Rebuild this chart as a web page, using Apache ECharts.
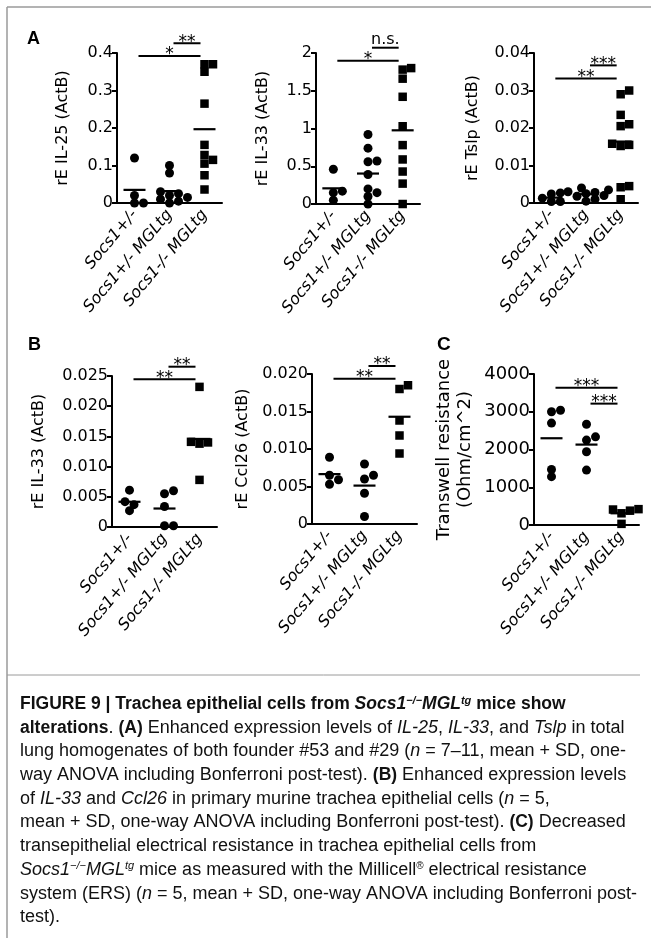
<!DOCTYPE html>
<html>
<head>
<meta charset="utf-8">
<script src="https://cdn.jsdelivr.net/npm/echarts@6/dist/echarts.min.js"></script>
<style>
  html, body { margin: 0; padding: 0; background: #fff; }
  #chart { width: 651px; height: 938px; }
</style>
</head>
<body>
<div id="chart"></div>
<script>
// group names on every x axis
var groups = ['Socs1+/-', 'Socs1+/- MGLtg', 'Socs1-/- MGLtg'];

// A: IL-25 (rE to ActB)
var il25Het = [0.12, 0.02, 0.0, 0.0];
var il25HetTg = [0.10, 0.08, 0.03, 0.025, 0.02, 0.015, 0.01, 0.005, 0.0];
var il25KoTg = [0.37, 0.37, 0.35, 0.265, 0.155, 0.128, 0.115, 0.105, 0.074, 0.036];

// A: IL-33
var il33aHet = [0.46, 0.17, 0.15, 0.05];
var il33aHetTg = [0.92, 0.74, 0.57, 0.56, 0.39, 0.2, 0.15, 0.1, 0.0];
var il33aKoTg = [1.80, 1.78, 1.66, 1.42, 1.03, 0.78, 0.59, 0.43, 0.27, 0.0];

// A: Tslp
var tslpHet = [0.0027, 0.0024, 0.0013, 0.0004, 0.0004];
var tslpHetTg = [0.004, 0.0035, 0.003, 0.0028, 0.0025, 0.002, 0.0018, 0.001, 0.0005];
var tslpKoTg = [0.030, 0.029, 0.0235, 0.021, 0.0205, 0.0158, 0.0155, 0.0152, 0.0045, 0.0042, 0.001];

// B: IL-33 in trachea epithelial cells
var il33bHet = [0.0061, 0.0042, 0.0037, 0.0027];
var il33bHetTg = [0.006, 0.0055, 0.0034, 0.0002, 0.0002];
var il33bKoTg = [0.0232, 0.014, 0.0138, 0.0141, 0.0078];

// B: Ccl26
var ccl26Het = [0.0089, 0.0065, 0.0059, 0.0053];
var ccl26HetTg = [0.008, 0.0065, 0.006, 0.0041, 0.001];
var ccl26KoTg = [0.0185, 0.018, 0.0138, 0.0118, 0.0094];

// C: transwell resistance (Ohm/cm^2)
var terHet = [3040, 3000, 2700, 1470, 1280];
var terHetTg = [2670, 2335, 2250, 1940, 1455];
var terKoTg = [420, 410, 380, 310, 30];

// significance bars: [from group, to group, height, label]
var il25Sig = [[0, 2, 0.392, '*'], [1, 2, 0.426, '**']];
var il33aSig = [[0, 2, 1.898, '*'], [1, 2, 2.07, 'n.s.']];
var tslpSig = [[0, 2, 0.0332, '**'], [1, 2, 0.0367, '***']];
var il33bSig = [[0, 2, 0.02446, '**'], [1, 2, 0.02654, '**']];
var ccl26Sig = [[0, 2, 0.01937, '**'], [1, 2, 0.02107, '**']];
var terSig = [[0, 2, 3638, '***'], [1, 2, 3215, '***']];

var FONT = 'DejaVu Sans, Verdana, sans-serif';

var panels = [
  { grid: { left: 117, top: 53, width: 105, height: 150 }, name: 'rE IL-25 (ActB)', gap: 45,
    max: 0.4, interval: 0.1, fmt: function (v) { return v === 0 ? '0' : v.toFixed(1); },
    sets: [il25Het, il25HetTg, il25KoTg], sig: il25Sig },
  { grid: { left: 316, top: 53, width: 104, height: 151 }, name: 'rE IL-33 (ActB)', gap: 44,
    max: 2, interval: 0.5, fmt: function (v) { return String(+v.toFixed(1)); },
    sets: [il33aHet, il33aHetTg, il33aKoTg], sig: il33aSig },
  { grid: { left: 534, top: 53, width: 104, height: 150 }, name: 'rE Tslp (ActB)', gap: 52,
    max: 0.04, interval: 0.01, fmt: function (v) { return v === 0 ? '0' : v.toFixed(2); },
    sets: [tslpHet, tslpHetTg, tslpKoTg], sig: tslpSig },
  { grid: { left: 112, top: 376, width: 105, height: 151 }, name: 'rE IL-33 (ActB)', gap: 64,
    max: 0.025, interval: 0.005, fmt: function (v) { return v === 0 ? '0' : v.toFixed(3); },
    sets: [il33bHet, il33bHetTg, il33bKoTg], sig: il33bSig },
  { grid: { left: 312, top: 374, width: 105, height: 150 }, name: 'rE Ccl26 (ActB)', gap: 60,
    max: 0.02, interval: 0.005, fmt: function (v) { return v === 0 ? '0' : v.toFixed(3); },
    sets: [ccl26Het, ccl26HetTg, ccl26KoTg], sig: ccl26Sig },
  { grid: { left: 534, top: 374, width: 105, height: 151 }, name: 'Transwell resistance\n(Ohm/cm^2)', gap: 58,
    max: 4000, interval: 1000, fmt: function (v) { return String(Math.round(v)); },
    sets: [terHet, terHetTg, terKoTg], sig: terSig, big: true }
];

// simple beeswarm: push overlapping points sideways (pixel offsets)
function swarm(vals, max, h, d) {
  var py = vals.map(function (v) { return v / max * h; });
  var order = py.map(function (p, i) { return i; }).sort(function (a, b) { return py[a] - py[b]; });
  var placed = [], off = [];
  var cands = [0];
  for (var k = 1; k < 10; k++) { cands.push(k * d * 0.5, -k * d * 0.5); }
  order.forEach(function (i) {
    var c = 0;
    for (var j = 0; j < cands.length; j++) {
      c = cands[j];
      var ok = placed.every(function (p) {
        var dx = p.x - c, dy = p.y - py[i];
        return dx * dx + dy * dy >= d * d * 0.55;
      });
      if (ok) break;
    }
    off[i] = c;
    placed.push({ x: c, y: py[i] });
  });
  return off;
}

function mean(a) { return a.reduce(function (s, v) { return s + v; }, 0) / a.length; }

var grids = [], xAxes = [], yAxes = [], series = [];

panels.forEach(function (p, idx) {
  grids.push(p.grid);
  xAxes.push({
    type: 'category', gridIndex: idx, data: groups,
    axisLine: { lineStyle: { color: '#000', width: 2 } },
    axisTick: { alignWithLabel: true, length: 5, lineStyle: { width: 2, color: '#000' } },
    axisLabel: { interval: 0, rotate: 50, margin: 9, color: '#000', fontStyle: 'italic',
      fontFamily: FONT, fontSize: 16 }
  });
  yAxes.push({
    type: 'value', gridIndex: idx, min: 0, max: p.max, interval: p.interval,
    name: p.name, nameLocation: 'middle', nameRotate: 90, nameGap: p.gap,
    nameTextStyle: { color: '#000', fontFamily: FONT, fontSize: p.big ? 18 : 16, lineHeight: p.big ? 21 : 18 },
    axisLine: { show: true, lineStyle: { color: '#000', width: 2 } },
    axisTick: { show: true, length: 5, lineStyle: { width: 2, color: '#000' } },
    splitLine: { show: false },
    axisLabel: { color: '#000', fontFamily: FONT, fontSize: p.big ? 18 : 16, margin: 4, formatter: p.fmt }
  });

  // mean bars
  series.push({
    type: 'scatter', xAxisIndex: idx, yAxisIndex: idx, z: 2,
    symbol: 'rect', symbolSize: [22, 2.2], itemStyle: { color: '#000', opacity: 1 },
    data: p.sets.map(function (s, i) { return [i, mean(s)]; })
  });

  // individual animals
  p.sets.forEach(function (s, i) {
    var size = i === 2 ? 8.5 : 9;
    var off = swarm(s, p.max, p.grid.height, size);
    series.push({
      type: 'scatter', xAxisIndex: idx, yAxisIndex: idx, z: 3,
      symbol: i === 2 ? 'rect' : 'circle', symbolSize: size,
      itemStyle: { color: '#000', opacity: 1 },
      data: s.map(function (v, k) { return { value: [i, v], symbolOffset: [off[k], 0] }; })
    });
  });

  // significance bars
  series.push({
    type: 'custom', xAxisIndex: idx, yAxisIndex: idx, clip: false, z: 4,
    encode: { x: [0, 1], y: 2 },
    data: p.sig.map(function (r) { return [r[0], r[1], r[2]]; }),
    renderItem: function (params, api) {
      var a = api.coord([api.value(0), api.value(2)]);
      var b = api.coord([api.value(1), api.value(2)]);
      var lab = p.sig[params.dataIndex][3];
      var star = lab.indexOf('*') === 0;
      return {
        type: 'group',
        children: [
          { type: 'line', shape: { x1: a[0] + 4, y1: a[1], x2: b[0] - 4, y2: b[1] },
            style: { stroke: '#000', lineWidth: 2 } },
          { type: 'text',
            style: { text: lab, x: (a[0] + b[0]) / 2, y: star ? a[1] - 1 : a[1] - 8,
              align: 'center', verticalAlign: 'middle', fill: '#000',
              font: (star ? '17px ' : '16px ') + FONT } }
        ]
      };
    }
  });
});

// caption lines, rich text
var CF = 'Liberation Sans';
var rich = {
  b: { fontWeight: 'bold', fontFamily: CF, fontSize: 17.5 },
  bi: { fontWeight: 'bold', fontStyle: 'italic', fontFamily: CF, fontSize: 17.5 },
  bs: { fontWeight: 'bold', fontStyle: 'italic', fontFamily: CF, fontSize: 11, verticalAlign: 'top' },
  i: { fontStyle: 'italic', fontFamily: CF, fontSize: 18 },
  s: { fontStyle: 'italic', fontFamily: CF, fontSize: 11, verticalAlign: 'top' },
  r: { fontFamily: CF, fontSize: 18 },
  rs: { fontFamily: CF, fontSize: 10, verticalAlign: 'top' }
};
var caption = [
  '{b|FIGURE 9 | Trachea epithelial cells from }{bi|Socs1}{bs|−/−}{bi|MGL}{bs|tg}{b| mice show}',
  '{b|alterations}{r|. }{b|(A)}{r| Enhanced expression levels of }{i|IL-25}{r|, }{i|IL-33}{r|, and }{i|Tslp}{r| in total}',
  '{r|lung homogenates of both founder #53 and #29 (}{i|n}{r| = 7–11, mean + SD, one-}',
  '{r|way ANOVA including Bonferroni post-test). }{b|(B)}{r| Enhanced expression levels}',
  '{r|of }{i|IL-33}{r| and }{i|Ccl26}{r| in primary murine trachea epithelial cells (}{i|n}{r| = 5,}',
  '{r|mean + SD, one-way ANOVA including Bonferroni post-test). }{b|(C)}{r| Decreased}',
  '{r|transepithelial electrical resistance in trachea epithelial cells from}',
  '{i|Socs1}{s|−/−}{i|MGL}{s|tg}{r| mice as measured with the Millicell}{rs|®}{r| electrical resistance}',
  '{r|system (ERS) (}{i|n}{r| = 5, mean + SD, one-way ANOVA including Bonferroni post-}',
  '{r|test).}'
];

var graphics = [
  { type: 'line', shape: { x1: 7, y1: 7, x2: 651, y2: 7 }, style: { stroke: '#9a9a9a', lineWidth: 1.5 } },
  { type: 'line', shape: { x1: 7, y1: 7, x2: 7, y2: 938 }, style: { stroke: '#9a9a9a', lineWidth: 1.5 } },
  { type: 'line', shape: { x1: 7, y1: 675, x2: 640, y2: 675 }, style: { stroke: '#9a9a9a', lineWidth: 1 } },
  { type: 'text', left: 27, top: 30, style: { text: 'A', font: 'bold 18px Liberation Sans', fill: '#000' } },
  { type: 'text', left: 28, top: 336, style: { text: 'B', font: 'bold 18px Liberation Sans', fill: '#000' } },
  { type: 'text', left: 437, top: 335, style: { text: 'C', font: 'bold 19px Liberation Sans', fill: '#000' } }
];
caption.forEach(function (line, i) {
  graphics.push({
    type: 'text', left: 20, top: 695 + i * 23.7,
    style: { text: line, rich: rich, fill: '#111', font: '18px Liberation Sans' }
  });
});

var chart = echarts.init(document.getElementById('chart'));
chart.setOption({
  animation: false,
  backgroundColor: '#fff',
  grid: grids,
  xAxis: xAxes,
  yAxis: yAxes,
  series: series,
  graphic: graphics
});
</script>
</body>
</html>
